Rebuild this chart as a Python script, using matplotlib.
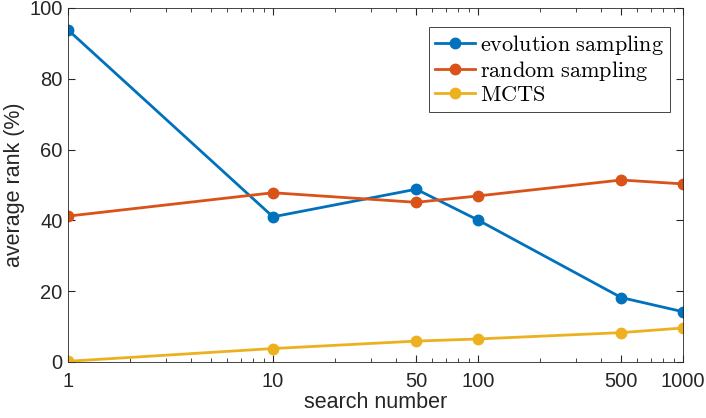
import matplotlib
matplotlib.use('Agg')
import matplotlib.pyplot as plt
from matplotlib.ticker import FixedLocator, LogLocator, NullFormatter

# data
search_number = [1, 10, 50, 100, 500, 1000]
evolution = [93.8, 41.0, 48.8, 40.1, 18.2, 14.2]
random_s = [41.2, 47.8, 45.1, 46.9, 51.4, 50.3]
mcts = [0.2, 3.8, 5.9, 6.5, 8.3, 9.6]
tick_labels = ['1', '10', '50', '100', '500', '1000']

plt.rcParams['font.family'] = ['Liberation Sans', 'DejaVu Sans']
plt.rcParams['mathtext.fontset'] = 'cm'

fig = plt.figure(figsize=(7.06, 4.18), dpi=100)
ax = fig.add_axes([0.0963, 0.134, 0.871, 0.847])

ax.plot(search_number, evolution, '-o', color='#0072BD', lw=2, ms=7.5,
        label=r'$\mathrm{evolution\ sampling}$')
ax.plot(search_number, random_s, '-o', color='#D95319', lw=2, ms=7.5,
        label=r'$\mathrm{random\ sampling}$')
ax.plot(search_number, mcts, '-o', color='#EDB120', lw=2, ms=7.5,
        label=r'$\mathrm{MCTS}$')

ax.set_xscale('log')
ax.set_xlim(1, 1000)
ax.set_ylim(0, 100)
ax.xaxis.set_major_locator(FixedLocator(search_number))
ax.set_xticklabels(tick_labels)
ax.xaxis.set_minor_locator(LogLocator(base=10, subs=range(2, 10)))
ax.xaxis.set_minor_formatter(NullFormatter())
ax.set_yticks([0, 20, 40, 60, 80, 100])

ax.tick_params(which='both', direction='in', top=True, right=True,
               colors='#262626', labelsize=14.5)
ax.tick_params(which='major', length=5)
ax.tick_params(which='minor', length=3)
ax.tick_params(axis='x', pad=7)
ax.tick_params(axis='y', pad=4)
for s in ax.spines.values():
    s.set_color('#262626')
    s.set_linewidth(0.6)

ax.set_xlabel('search number', fontsize=15.5, color='#262626', labelpad=1)
ax.set_ylabel('average rank (%)', fontsize=15.5, color='#262626', labelpad=3)

leg = ax.legend(loc='upper right', bbox_to_anchor=(0.979, 0.946), fontsize=16,
                fancybox=False, framealpha=1, edgecolor='#262626',
                handlelength=1.8, handletextpad=0.25, borderpad=0.25,
                labelspacing=0.1, borderaxespad=0)
leg.get_frame().set_linewidth(0.6)

fig.savefig('out.png', dpi=100)
